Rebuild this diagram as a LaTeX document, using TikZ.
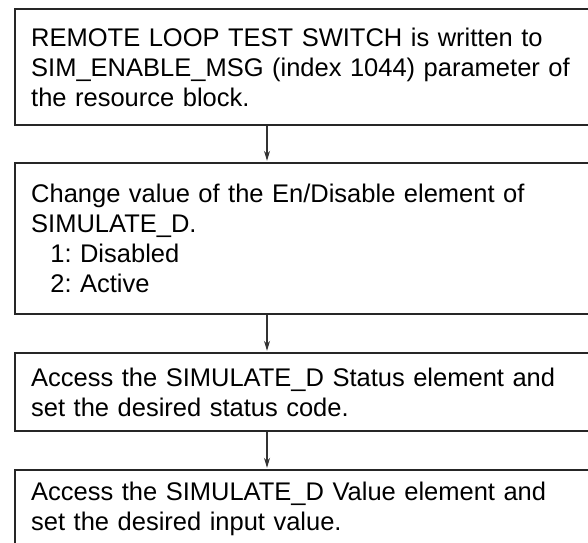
\documentclass[tikz,border=0pt]{standalone}
\usepackage{fontspec}
\setmainfont{Liberation Sans}
\usetikzlibrary{arrows.meta}
\frenchspacing

\def\boxwidth{606pt}
\def\arrowx{253pt}

\begin{document}
\begin{tikzpicture}[x=1pt, y=-1pt, font=\fontsize{25.5}{30}\selectfont]
        \tikzstyle{block}=[draw=black!85, line width=2.4pt, anchor=north west, minimum width=\boxwidth, text width=574pt, align=left, inner xsep=16pt, inner ysep=0pt]
        \tikzstyle{edge}=[-{Stealth[length=10pt,width=6pt]}, draw=black!80, line width=1.1pt, shorten >=1.2pt]

        \useasboundingbox (0,0) rectangle (588,542);
        \clip (0,0) rectangle (588,542);

        \node[block, minimum height=116pt] (B-1) at (14,8)
            {REMOTE LOOP TEST SWITCH is written to\\SIM\_ENABLE\_MSG (index 1044) parameter of\\the resource block.};
        \node[block, minimum height=151pt] (B-2) at (14,162)
            {Change value of the En/Disable element of\\SIMULATE\_D.\\\hspace*{0.75em}1: Disabled\\\hspace*{0.75em}2: Active};
        \node[block, minimum height=78pt] (B-3) at (14,352)
            {Access the SIMULATE\_D Status element and\\set the desired status code.};
        \node[block, minimum height=78pt] (B-4) at (14,469)
            {Access the SIMULATE\_D Value element and\\set the desired input value.};

        \draw[edge] ([xshift=\arrowx]B-1.south west) -- ([xshift=\arrowx]B-2.north west);
        \draw[edge] ([xshift=\arrowx]B-2.south west) -- ([xshift=\arrowx]B-3.north west);
        \draw[edge] ([xshift=\arrowx]B-3.south west) -- ([xshift=\arrowx]B-4.north west);
\end{tikzpicture}
\end{document}
